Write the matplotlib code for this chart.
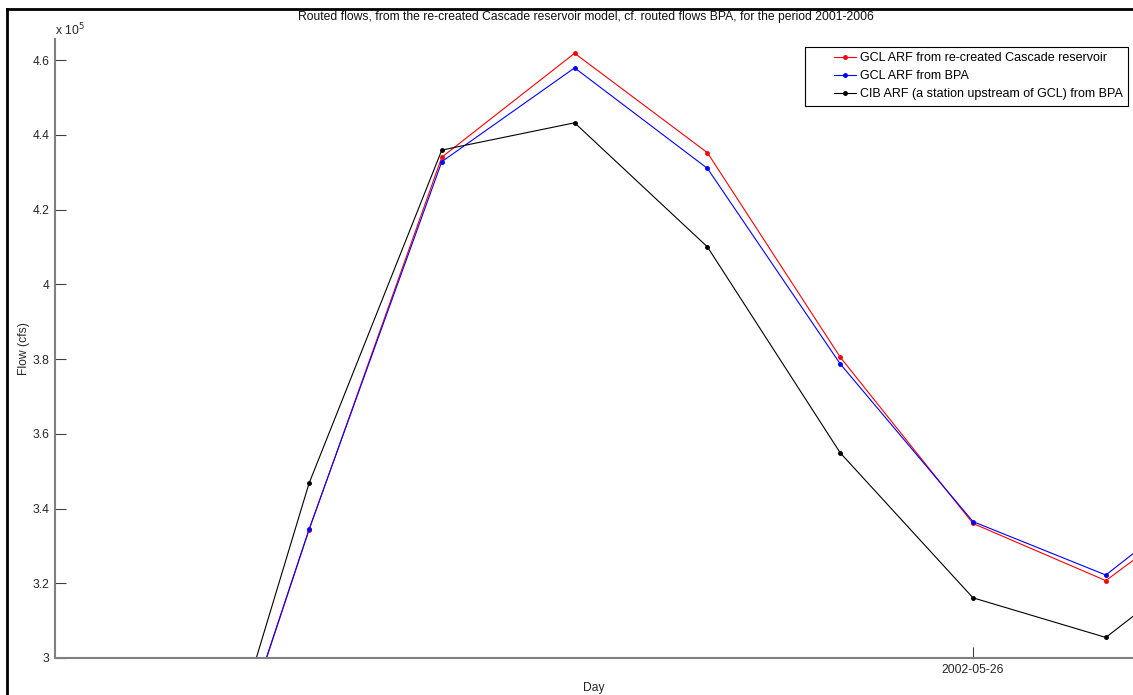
import matplotlib
matplotlib.use('Agg')
import matplotlib.pyplot as plt
import matplotlib.dates as mdates
from matplotlib.lines import Line2D
from matplotlib.legend_handler import HandlerLine2D
import numpy as np
import pandas as pd

plt.rcParams['font.family'] = ['Liberation Sans', 'DejaVu Sans']

# Daily routed flows (cfs), window around late May 2002
days = ['2002-05-20', '2002-05-21', '2002-05-22', '2002-05-23', '2002-05-24',
        '2002-05-25', '2002-05-26', '2002-05-27', '2002-05-28']
gcl_recreated = [227000, 334200, 434000, 461800, 435200, 380500, 336000, 320700, 347000]
gcl_bpa = [227400, 334400, 432800, 457900, 431000, 378700, 336500, 322200, 350000]
cib_bpa = [229000, 346700, 435900, 443200, 410000, 354900, 316100, 305500, 333000]

labels = ['GCL ARF from re-created Cascade reservoir',
          'GCL ARF from BPA',
          'CIB ARF (a station upstream of GCL) from BPA']
colors = ['red', 'blue', 'black']

FS = 8.7
t = pd.to_datetime(days)
W, H = 1133, 695
fig = plt.figure(figsize=(W / 100, H / 100), dpi=100)
ax = fig.add_axes([55 / W, 1 - 658 / H, (W - 55) / W, (658 - 39) / H])

for series, c, lab in zip([gcl_recreated, gcl_bpa, cib_bpa], colors, labels):
    ax.plot(t, np.array(series) / 1e5, color=c, lw=0.8, marker='.', ms=5, label=lab)

# x limits: one day = ~132.8 px, 2002-05-26 sits at x=973
ref = mdates.date2num(pd.Timestamp('2002-05-26'))
ax.set_xlim(ref - (973 - 55) / 132.8, ref + (W - 973) / 132.8)
ax.set_ylim(3.0, 3.0 + (658 - 39) / 373.75)

ax.set_yticks([3.0, 3.2, 3.4, 3.6, 3.8, 4.0, 4.2, 4.4, 4.6])
ax.set_yticklabels(['3', '3.2', '3.4', '3.6', '3.8', '4', '4.2', '4.4', '4.6'])
ax.set_xticks([ref])
ax.set_xticklabels(['2002-05-26'])

for s in ['top', 'right']:
    ax.spines[s].set_visible(False)
for s in ['left', 'bottom']:
    ax.spines[s].set_color('#808080')
    ax.spines[s].set_linewidth(1.5)
ax.tick_params(direction='in', length=8, width=0.8, color='#404040',
               labelsize=FS, labelcolor='#262626', pad=4)

ax.set_xlabel('Day', fontsize=FS, color='#262626', labelpad=5)
ax.set_ylabel('Flow (cfs)', fontsize=FS, color='#262626', labelpad=2)
fig.text(586 / W, 1 - 17 / H, 'Routed flows, from the re-created Cascade reservoir model, cf. '
         'routed flows BPA, for the period 2001-2006', ha='center', va='center',
         fontsize=FS, color='#111111')
fig.text(55 / W, 1 - 30 / H, r'x 10$^5$', ha='left', va='center', fontsize=FS, color='#262626')

leg = ax.legend(loc='upper right', bbox_to_anchor=(1128 / W, 1 - 47 / H),
                bbox_transform=fig.transFigure, fontsize=9, fancybox=False,
                edgecolor='black', framealpha=1, borderaxespad=0,
                handlelength=3.7, handletextpad=0.3, labelspacing=0.5, borderpad=0.4,
                handler_map={Line2D: HandlerLine2D(xpad=1.9)})
leg.get_frame().set_linewidth(0.8)

# black frame of the screenshot at top and left
fig.add_artist(Line2D([7 / W, 7 / W], [0, 1 - 9 / H], color='black', lw=2,
                      transform=fig.transFigure))
fig.add_artist(Line2D([7 / W, 1], [1 - 9 / H, 1 - 9 / H], color='black', lw=2,
                      transform=fig.transFigure))

fig.savefig('out.png', dpi=100)
